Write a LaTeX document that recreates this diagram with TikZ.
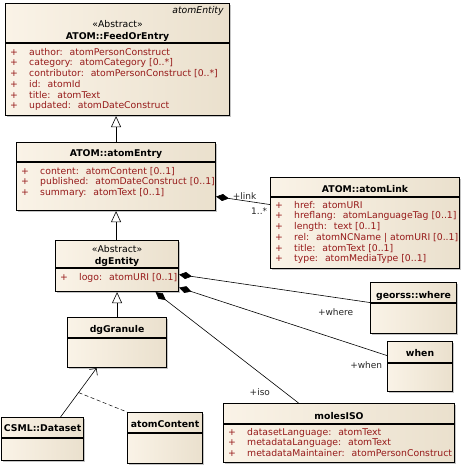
\documentclass[tikz,border=0pt]{standalone}
\usepackage{fontspec}
\setmainfont{DejaVu Sans}
\usetikzlibrary{arrows.meta,shadows}

\definecolor{boxlight}{RGB}{250,243,231}
\definecolor{boxdark}{RGB}{234,224,205}
\definecolor{attrred}{RGB}{150,25,25}
\newcommand{\attr}[1]{\makebox[19pt][l]{+}#1}

\tikzset{
	classbox/.style={draw,line width=1.1pt,anchor=north west,inner sep=0pt,
		left color=boxlight,right color=boxdark,
		drop shadow={shadow xshift=1.8pt,shadow yshift=-1.8pt,fill=black!45}},
	sepline/.style={line width=1.1pt},
	classname/.style={font=\bfseries\fontsize{9.3}{10}\selectfont,anchor=base},
	stereo/.style={font=\fontsize{9.3}{10}\selectfont,anchor=base},
	attrs/.style={font=\fontsize{9.3}{10.7}\selectfont,text=attrred,align=left,
		anchor=north west,inner sep=0pt},
	rolelabel/.style={font=\fontsize{9}{10}\selectfont,text=black!85,inner sep=1pt},
	genl/.style={line width=0.6pt,-{Triangle[length=11pt,width=10pt,fill=white,line width=0.6pt]}},
	compo/.style={line width=0.6pt,{Diamond[length=13pt,width=7pt]}-},
	navig/.style={line width=0.6pt,-{Straight Barb[length=5pt,width=10pt,line width=0.6pt]}},
}

\begin{document}
\begin{tikzpicture}[x=1pt,y=-1pt]
\useasboundingbox (0,0) rectangle (461,466);

% ATOM::FeedOrEntry
\node[classbox,minimum width=224pt,minimum height=112pt] (feed) at (5,3) {};
\draw[sepline] ([yshift=-40pt]feed.north west) -- ([yshift=-40pt]feed.north east);
\node[font=\itshape\fontsize{9.3}{10}\selectfont,anchor=base east] at ([xshift=-3pt,yshift=-10.5pt]feed.north east) {atomEntity};
\node[stereo] at ([yshift=-24pt]feed.north) {«Abstract»};
\node[classname] at ([yshift=-36pt]feed.north) {ATOM::FeedOrEntry};
\node[attrs] at ([xshift=5pt,yshift=-45pt]feed.north west) {\attr{author:~ atomPersonConstruct}\\
	\attr{category:~ atomCategory [0..*]}\\
	\attr{contributor:~ atomPersonConstruct [0..*]}\\
	\attr{id:~ atomId}\\
	\attr{title:~ atomText}\\
	\attr{updated:~ atomDateConstruct}};

% ATOM::atomEntry
\node[classbox,minimum width=199pt,minimum height=68pt] (entry) at (16,142) {};
\draw[sepline] ([yshift=-20pt]entry.north west) -- ([yshift=-20pt]entry.north east);
\node[classname] at ([yshift=-14.5pt]entry.north) {ATOM::atomEntry};
\node[attrs] at ([xshift=5pt,yshift=-25pt]entry.north west) {\attr{content:~ atomContent [0..1]}\\
	\attr{published:~ atomDateConstruct [0..1]}\\
	\attr{summary:~ atomText [0..1]}};

% ATOM::atomLink
\node[classbox,minimum width=189pt,minimum height=91pt] (link) at (270,177) {};
\draw[sepline] ([yshift=-20pt]link.north west) -- ([yshift=-20pt]link.north east);
\node[classname] at ([yshift=-15.5pt]link.north) {ATOM::atomLink};
\node[attrs] at ([xshift=5pt,yshift=-24pt]link.north west) {\attr{href:~ atomURI}\\
	\attr{hreflang:~ atomLanguageTag [0..1]}\\
	\attr{length:~ text [0..1]}\\
	\attr{rel:~ atomNCName | atomURI [0..1]}\\
	\attr{title:~ atomText [0..1]}\\
	\attr{type:~ atomMediaType [0..1]}};

% dgEntity
\node[classbox,minimum width=123pt,minimum height=51pt] (dgent) at (55,240) {};
\draw[sepline] ([yshift=-28pt]dgent.north west) -- ([yshift=-28pt]dgent.north east);
\node[stereo] at ([yshift=-12.5pt]dgent.north) {«Abstract»};
\node[classname] at ([yshift=-24.5pt]dgent.north) {dgEntity};
\node[attrs] at ([xshift=5pt,yshift=-33pt]dgent.north west) {\attr{logo:~ atomURI [0..1]}};

% dgGranule
\node[classbox,minimum width=99pt,minimum height=50pt] (dggran) at (67,317) {};
\draw[sepline] ([yshift=-21pt]dggran.north west) -- ([yshift=-21pt]dggran.north east);
\node[classname] at ([yshift=-15.5pt]dggran.north) {dgGranule};

% CSML::Dataset
\node[classbox,minimum width=82pt,minimum height=43pt] (csml) at (1,417) {};
\draw[sepline] ([yshift=-21pt]csml.north west) -- ([yshift=-21pt]csml.north east);
\node[classname] at ([yshift=-14.5pt]csml.north) {CSML::Dataset};

% atomContent
\node[classbox,minimum width=75pt,minimum height=51pt] (atomcont) at (127,412) {};
\draw[sepline] ([yshift=-21pt]atomcont.north west) -- ([yshift=-21pt]atomcont.north east);
\node[classname] at ([yshift=-15.5pt]atomcont.north) {atomContent};

% georss::where
\node[classbox,minimum width=86pt,minimum height=51pt] (georss) at (370,282) {};
\draw[sepline] ([yshift=-21pt]georss.north west) -- ([yshift=-21pt]georss.north east);
\node[classname] at ([yshift=-16.5pt]georss.north) {georss::where};

% when
\node[classbox,minimum width=65pt,minimum height=50pt] (when) at (387,341) {};
\draw[sepline] ([yshift=-22pt]when.north west) -- ([yshift=-22pt]when.north east);
\node[classname] at ([yshift=-15.5pt]when.north) {when};

% molesISO
\node[classbox,minimum width=231pt,minimum height=59pt] (moles) at (223,403) {};
\draw[sepline] ([yshift=-21pt]moles.north west) -- ([yshift=-21pt]moles.north east);
\node[classname] at ([yshift=-16.5pt]moles.north) {molesISO};
\node[attrs] at ([xshift=5pt,yshift=-25pt]moles.north west) {\attr{datasetLanguage:~ atomText}\\
	\attr{metadataLanguage:~ atomText}\\
	\attr{metadataMaintainer:~ atomPersonConstruct}};

% generalizations
\draw[genl] (entry.north) -- (entry.north |- feed.south);
\draw[genl] (entry.south |- dgent.north) -- (entry.south);
\draw[genl] (dggran.north) -- (dggran.north |- dgent.south);

% compositions
\draw[compo] ([yshift=-20pt]entry.east) -- ([yshift=18.5pt]link.west)
	node[rolelabel,pos=0.53,above] {+link}
	node[rolelabel,pos=0.8,below=4pt] {1..*};
\draw[compo] ([yshift=-8.5pt]dgent.east) -- ([yshift=5.5pt]georss.west)
	node[rolelabel,pos=0.82,below=10pt] {+where};
\draw[compo] ([yshift=-21.5pt]dgent.east) -- ([yshift=11pt]when.west)
	node[rolelabel,pos=0.9,below=12pt] {+when};
\draw[compo] ([xshift=38.5pt]dgent.south) -- ([xshift=-40.5pt]moles.north)
	node[rolelabel,pos=0.9,left=13pt] {+iso};

% association
\draw[navig] ([xshift=18pt]csml.north) -- coordinate[pos=0.5] (assoc) ([xshift=-20.5pt]dggran.south);
\draw[dash pattern=on 4pt off 2.5pt,line width=0.5pt] (assoc) -- (atomcont.north west);
\end{tikzpicture}
\end{document}
